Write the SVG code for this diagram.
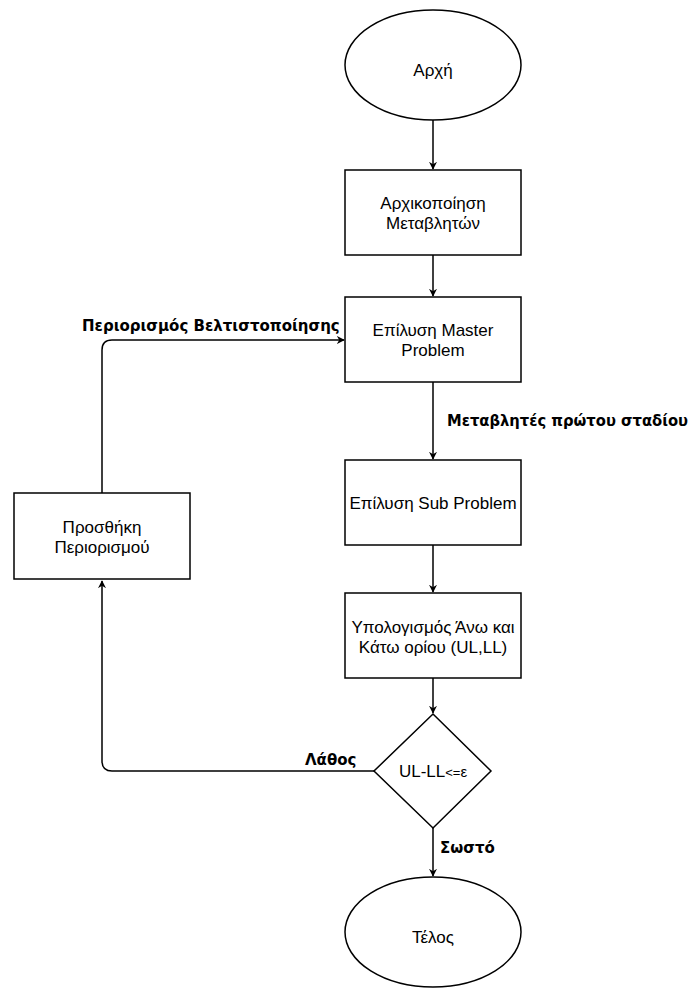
<svg xmlns="http://www.w3.org/2000/svg" width="691" height="992" viewBox="0 0 691 992">
<style>
.n{fill:#fff;stroke:#000;stroke-width:1.5}
.t{font-family:"Liberation Sans",Arial,sans-serif;font-size:17px;fill:#000;text-anchor:middle}
.l{font-family:"DejaVu Sans",Verdana,sans-serif;font-size:15px;font-weight:bold;fill:#000}
.c{fill:none;stroke:#000;stroke-width:1.5}
</style>
<defs>
<marker id="a" viewBox="0 0 10 10" refX="9" refY="5" markerWidth="8" markerHeight="8" markerUnits="userSpaceOnUse" orient="auto">
<path d="M0,0 L10,5 L0,10 L3,5 Z" fill="#000"/>
</marker>
</defs>
<rect width="691" height="992" fill="#fff"/>
<g id="connectors">
<path class="c" d="M433,120 V169" marker-end="url(#a)"/>
<path class="c" d="M433,255 V296" marker-end="url(#a)"/>
<path class="c" d="M433,382 V459" marker-end="url(#a)"/>
<path class="c" d="M433,545 V592" marker-end="url(#a)"/>
<path class="c" d="M433,678 V713" marker-end="url(#a)"/>
<path class="c" d="M433,828 V876" marker-end="url(#a)"/>
<path class="c" d="M374,771 H112 Q102,771 102,761 V581" marker-end="url(#a)"/>
<path class="c" d="M102,493 V350 Q102,340 112,340 H344" marker-end="url(#a)"/>
<text class="l" x="447" y="426" font-size="14.6" textLength="241" lengthAdjust="spacingAndGlyphs">Μεταβλητές πρώτου σταδίου</text>
<text class="l" x="82" y="331">Περιορισμός Βελτιστοποίησης</text>
<text class="l" x="305" y="765">Λάθος</text>
<text class="l" x="440" y="853">Σωστό</text>
</g>
<g id="start">
<ellipse class="n" cx="433" cy="65" rx="88" ry="55"/>
<text class="t" x="433" y="76">Αρχή</text>
</g>
<g id="init">
<rect class="n" x="345" y="170" width="176" height="85"/>
<text class="t" x="433" y="209">Αρχικοποίηση</text>
<text class="t" x="433" y="229">Μεταβλητών</text>
</g>
<g id="master">
<rect class="n" x="345" y="297" width="176" height="85"/>
<text class="t" x="433" y="336">Επίλυση Master</text>
<text class="t" x="433" y="356">Problem</text>
</g>
<g id="sub">
<rect class="n" x="345" y="460" width="176" height="85"/>
<text class="t" x="433" y="509">Επίλυση Sub Problem</text>
</g>
<g id="bounds">
<rect class="n" x="345" y="593" width="176" height="85"/>
<text class="t" x="433" y="633">Υπολογισμός Άνω και</text>
<text class="t" x="433" y="653">Κάτω ορίου (UL,LL)</text>
</g>
<g id="check">
<path class="n" d="M433,714 L491,771 L433,828 L374,771 Z"/>
<text class="t" x="433" y="777"><tspan font-size="17">UL-LL</tspan><tspan font-size="13">&lt;=</tspan><tspan font-size="15">ε</tspan></text>
</g>
<g id="add">
<rect class="n" x="14" y="493" width="176" height="86"/>
<text class="t" x="102" y="533">Προσθήκη</text>
<text class="t" x="102" y="553">Περιορισμού</text>
</g>
<g id="end">
<ellipse class="n" cx="433" cy="932" rx="88" ry="55"/>
<text class="t" x="433" y="943">Τέλος</text>
</g>
</svg>
